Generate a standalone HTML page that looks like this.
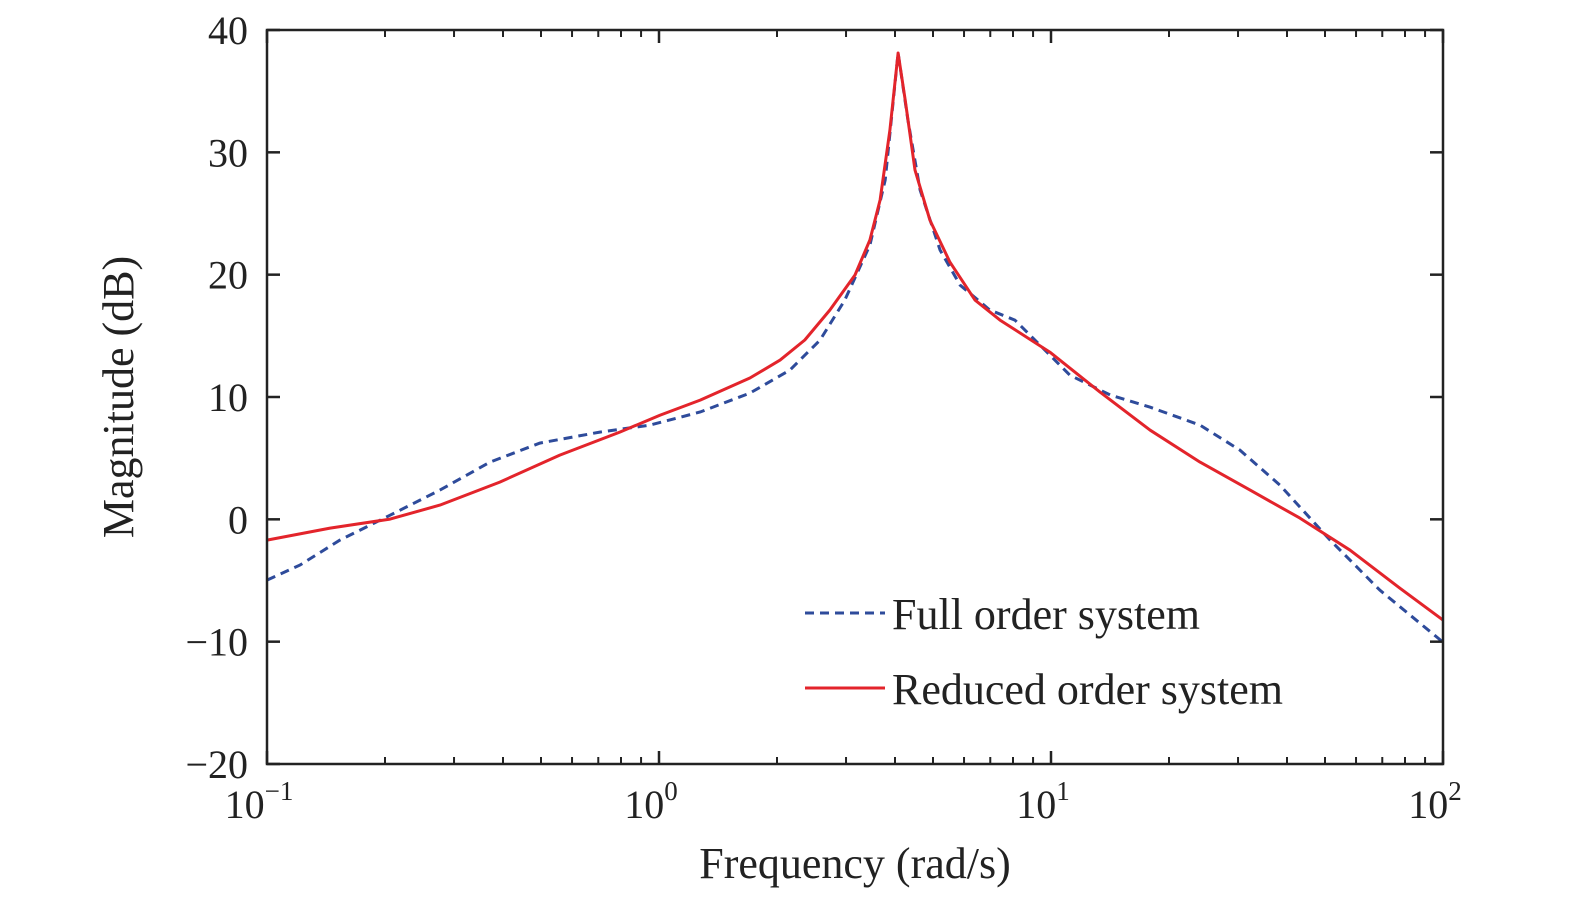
<!DOCTYPE html>
<html><head><meta charset="utf-8"><style>
body{margin:0;background:#fff}
svg text{font-family:"Liberation Serif",serif;fill:#222}
</style></head><body>
<svg width="1575" height="900">
<g id="plot"></g>
</svg>
<script>
const xTickExp=[-1,0,1,2];
const yTicks=[-20,-10,0,10,20,30,40];
const redLogW=[-1,-0.839,-0.686,-0.559,-0.406,-0.253,-0.1,0.003,0.105,0.232,0.309,0.372,0.436,0.5,0.538,0.564,0.589,0.61,0.628,0.653,0.691,0.742,0.806,0.87,0.997,1.125,1.253,1.38,1.508,1.635,1.763,1.89,2.0];
const redDb=[-1.7,-0.72,0.02,1.16,3.04,5.25,7.13,8.52,9.75,11.55,13.02,14.66,17.11,19.97,22.83,26.1,31.82,38.12,34.28,28.55,24.46,21.03,17.92,16.29,13.67,10.4,7.29,4.68,2.39,0.1,-2.52,-5.63,-8.24];
const blueLogW=[-1,-0.916,-0.814,-0.686,-0.559,-0.431,-0.304,-0.151,-0.023,0.105,0.232,0.334,0.411,0.474,0.538,0.577,0.61,0.635,0.666,0.717,0.768,0.844,0.908,0.972,1.048,1.151,1.253,1.38,1.482,1.584,1.712,1.839,2.0];
const blueDb=[-4.97,-3.74,-1.7,0.34,2.39,4.68,6.23,7.13,7.7,8.77,10.32,12.2,14.66,17.92,22.42,27.74,38.12,32.64,26.92,22.01,19.15,17.11,16.29,14.24,11.79,10.16,9.17,7.7,5.66,2.8,-1.7,-5.79,-10.04];

const L=267,R=1443,T=30,B=764;
const xs=lw=>L+(lw+1)/3*(R-L);
const ys=d=>T+(40-d)/60*(B-T);
const NS="http://www.w3.org/2000/svg";
const g=document.getElementById('plot');
function mk(tag,attrs,parent){const e=document.createElementNS(NS,tag);for(const k in attrs)e.setAttribute(k,attrs[k]);(parent||g).appendChild(e);return e;}

// series
function path(lw,db){return lw.map((v,i)=>(i?'L':'M')+xs(v).toFixed(1)+','+ys(db[i]).toFixed(1)).join('');}
let p=mk('path',{d:path(blueLogW,blueDb),fill:'none',stroke:'#2e4b9b','stroke-width':3,'stroke-dasharray':'9,6'});


p=mk('path',{d:path(redLogW,redDb),fill:'none',stroke:'#e3242b','stroke-width':3,'stroke-linejoin':'round'});



// frame
let f=mk('rect',{x:L,y:T,width:R-L,height:B-T,fill:'none',stroke:'#222','stroke-width':2.5});



// x ticks
xTickExp.forEach((e,i)=>{
  const x=xs(e);
  mk('line',{x1:x,y1:B,x2:x,y2:B-13,stroke:'#222','stroke-width':2.5});
  mk('line',{x1:x,y1:T,x2:x,y2:T+13,stroke:'#222','stroke-width':2.5});
  if(i<xTickExp.length-1){for(let m=2;m<10;m++){const xm=xs(e+Math.log10(m));
    mk('line',{x1:xm,y1:B,x2:xm,y2:B-7,stroke:'#222','stroke-width':2});
    mk('line',{x1:xm,y1:T,x2:xm,y2:T+7,stroke:'#222','stroke-width':2});}}
  const t=mk('text',{x:x-8,y:818,'font-size':40,'text-anchor':'middle'});
  
  
  t.textContent='10';
  const s=mk('tspan',{dy:-18,'font-size':27},t);s.textContent=e<0?'\u22121':String(e);
});
// y ticks
yTicks.forEach(v=>{
  const y=ys(v);
  mk('line',{x1:L,y1:y,x2:L+13,y2:y,stroke:'#222','stroke-width':2.5});
  mk('line',{x1:R,y1:y,x2:R-13,y2:y,stroke:'#222','stroke-width':2.5});
  const t=mk('text',{x:248,y:y+14,'font-size':40,'text-anchor':'end'});
  
  
  t.textContent=v<0?'\u2212'+(-v):String(v);
});
// titles
let t=mk('text',{x:855,y:878,'font-size':44,'text-anchor':'middle'});


t.textContent='Frequency (rad/s)';
t=mk('text',{x:0,y:0,'font-size':44,'text-anchor':'middle',transform:'translate(133,397) rotate(-90)'});


t.textContent='Magnitude (dB)';
// legend
const lg=mk('g',{});


mk('line',{x1:805,y1:613,x2:885,y2:613,stroke:'#2e4b9b','stroke-width':3,'stroke-dasharray':'9,6'},lg);
mk('line',{x1:805,y1:688,x2:885,y2:688,stroke:'#e3242b','stroke-width':3},lg);
t=mk('text',{x:892,y:629,'font-size':44},lg);


t.textContent='Full order system';
t=mk('text',{x:892,y:704,'font-size':44},lg);


t.textContent='Reduced order system';
</script>
</body></html>
